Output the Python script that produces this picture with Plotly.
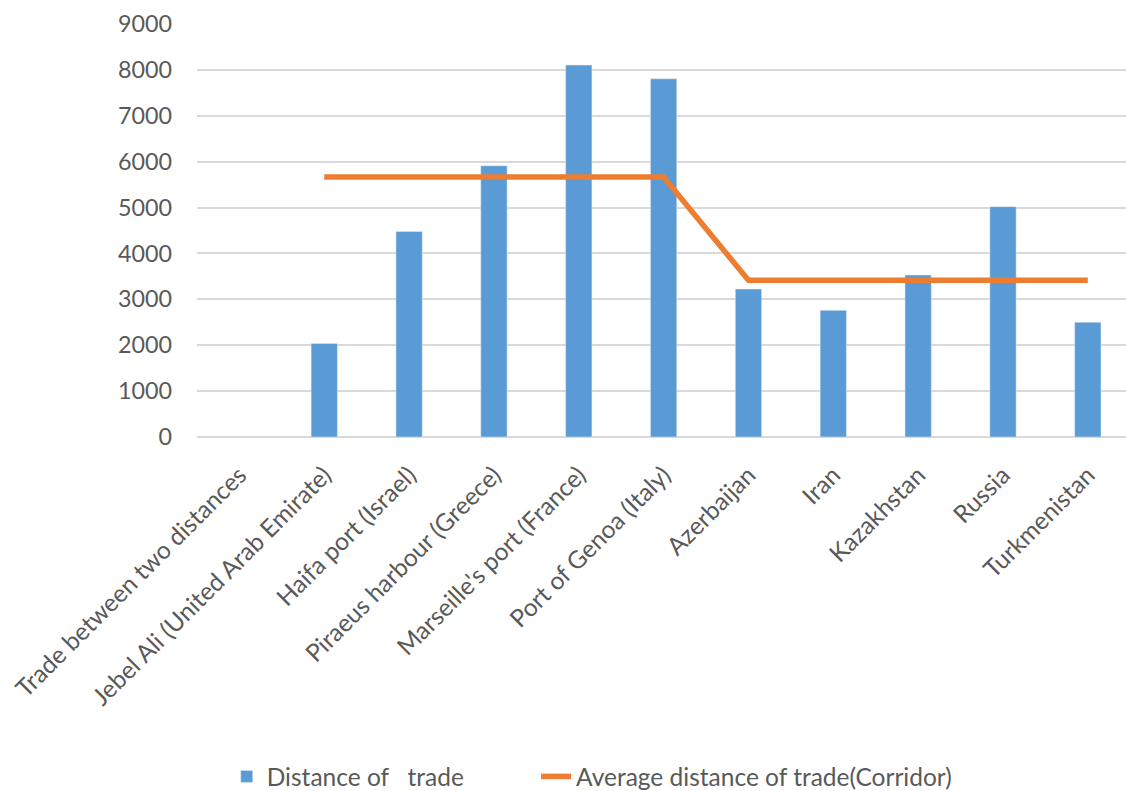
import plotly.graph_objects as go

categories = [
    "Trade between two distances",
    "Jebel Ali (United Arab Emirate)",
    "Haifa port (Israel)",
    "Piraeus harbour (Greece)",
    "Marseille's port (France)",
    "Port of Genoa (Italy)",
    "Azerbaijan",
    "Iran",
    "Kazakhstan",
    "Russia",
    "Turkmenistan",
]
distance = [None, 2040, 4480, 5910, 8105, 7805, 3225, 2760, 3530, 5020, 2500]
average = [None, 5665, 5665, 5665, 5665, 5665, 3415, 3415, 3415, 3415, 3415]
y_ticks = [0, 1000, 2000, 3000, 4000, 5000, 6000, 7000, 8000, 9000]

font_family = "Lato"
grey = "#595959"

fig = go.Figure()
fig.add_trace(go.Bar(
    x=categories, y=distance, name="Distance of   trade",
    marker=dict(color="#5B9BD5"), legend="legend",
))
fig.add_trace(go.Scatter(
    x=categories, y=average, name="Average distance of trade(Corridor)",
    mode="lines", line=dict(color="#ED7D31", width=5.5), connectgaps=False,
    legend="legend2",
))

legend_common = dict(
    orientation="h", xanchor="left", y=-0.822, yanchor="middle",
    font=dict(family=font_family, size=24.5, color=grey),
    bgcolor="rgba(0,0,0,0)",
)

fig.update_layout(
    width=1126, height=791,
    margin=dict(l=197, r=0, t=24, b=354, autoexpand=False),
    plot_bgcolor="white", paper_bgcolor="white",
    font=dict(family=font_family, size=22, color=grey),
    bargap=0.69,
    showlegend=True,
    legend=dict(x=0.032, **legend_common),
    legend2=dict(x=0.365, **legend_common),
    xaxis=dict(
        range=[-0.5, 10.45],
        tickangle=-45, showgrid=False, showline=False, ticks="",
        tickfont=dict(family=font_family, size=24.5, color=grey),
        ticklabelstandoff=18, automargin=False,
    ),
    yaxis=dict(
        range=[0, 9000], tickvals=y_ticks, showgrid=True,
        gridcolor="#D9D9D9", gridwidth=1.5, zeroline=True,
        zerolinecolor="#D9D9D9", zerolinewidth=1.5,
        tickfont=dict(family=font_family, size=23.3, color=grey),
        ticks="", ticklen=0, ticklabelstandoff=24, automargin=False,
    ),
)

fig.write_html("out.html")
